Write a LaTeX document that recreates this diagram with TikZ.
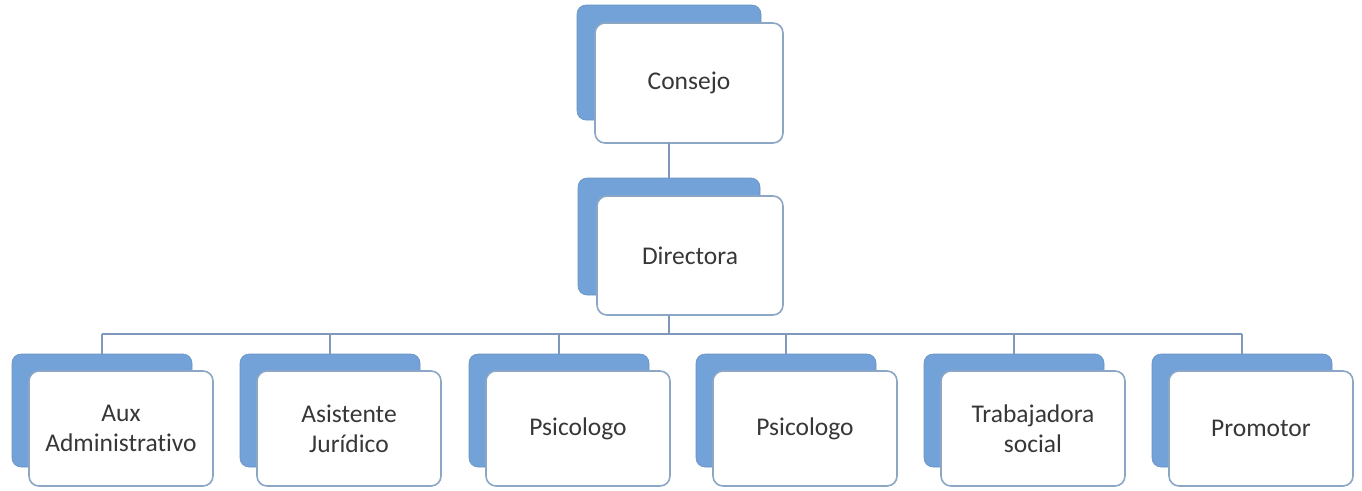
\documentclass[tikz,border=0pt]{standalone}
\usepackage{fontspec}
\setmainfont{Carlito}[Ligatures={NoCommon}]
\definecolor{backblue}{RGB}{114,162,215}
\definecolor{frontedge}{RGB}{140,166,198}
\definecolor{linkc}{RGB}{125,152,186}
\definecolor{txt}{RGB}{55,55,55}
\begin{document}
\begin{tikzpicture}[x=1pt,y=-1pt,
  backbox/.style={fill=backblue,draw=backblue!90!black,line width=0.6pt,rounded corners=9pt},
  frontbox/.style={fill=white,draw=frontedge,line width=1.6pt,rounded corners=10pt},
  lbl/.style={align=center,text=txt,font=\fontsize{25.5}{30}\selectfont,inner sep=0pt},
  link/.style={draw=linkc,line width=1.3pt}]
\useasboundingbox (0,0) rectangle (1362,490);
% top: Consejo
\draw[backbox] (577,5) rectangle (761,120);
\node[minimum width=184pt,minimum height=115pt,inner sep=0pt] (cb) at (669,62.5) {};
\draw[frontbox] (595,23) rectangle (783,143);
\node[minimum width=188pt,minimum height=120pt,inner sep=0pt] (c) at (689,83) {};
\node[lbl] (ct) at (c.center) {Consejo};
% Directora
\draw[backbox] (578,178) rectangle (760,295);
\node[minimum width=182pt,minimum height=117pt,inner sep=0pt] (db) at (669,236.5) {};
\draw[frontbox] (597,196) rectangle (783,315);
\node[minimum width=186pt,minimum height=119pt,inner sep=0pt] (d) at (690,255.5) {};
\node[lbl] (dt) at (d.center) {Directora};
\draw[link] (cb.center |- c.south) -- (db.north);
\coordinate (bar) at (669,334);
\draw[link] (db.center |- d.south) -- (bar);
% bottom row
\foreach \x/\nm/\t in {100/a/{Aux\\Administrativo},328/b/{Asistente\\Jurídico},557/p/{Psicologo},784/q/{Psicologo},1012/t/{Trabajadora\\social},1240/r/{Promotor}}{
  \draw[backbox] (\x-88,354) rectangle (\x+92,467);
  \node[minimum width=180pt,minimum height=113pt,inner sep=0pt] (\nm b) at (\x+2,410.5) {};
  \draw[frontbox] (\x-71,371) rectangle (\x+113,486);
  \node[minimum width=184pt,minimum height=115pt,inner sep=0pt] (\nm) at (\x+21,428.5) {};
  \node[lbl] (\nm t) at (\nm.center) {\t};
}
\draw[link] (ab.north |- bar) -- (rb.north |- bar);
\foreach \nm in {a,b,p,q,t,r}{
  \draw[link] (\nm b.north |- bar) -- (\nm b.north);
}
\end{tikzpicture}
\end{document}
